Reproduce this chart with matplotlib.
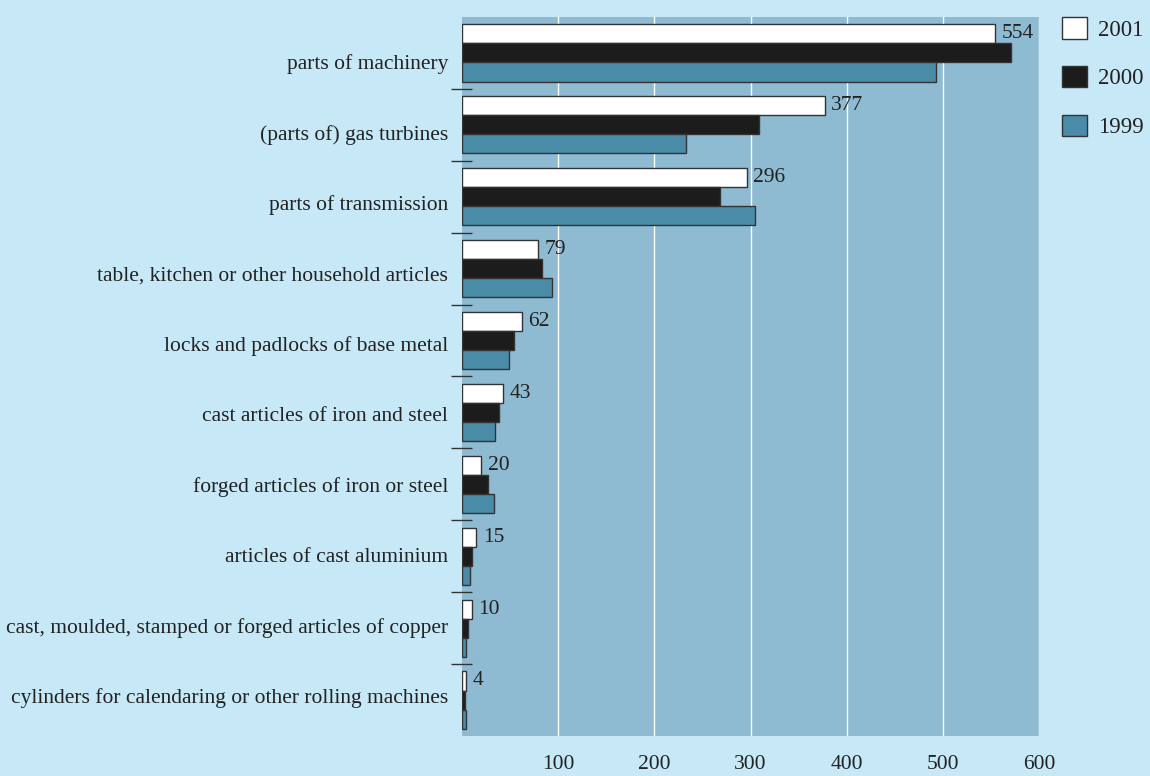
import numpy as np
import matplotlib.pyplot as plt
from matplotlib.patches import Patch

categories = [
    "parts of machinery",
    "(parts of) gas turbines",
    "parts of transmission",
    "table, kitchen or other household articles",
    "locks and padlocks of base metal",
    "cast articles of iron and steel",
    "forged articles of iron or steel",
    "articles of cast aluminium",
    "cast, moulded, stamped or forged articles of copper",
    "cylinders for calendaring or other rolling machines",
]
years = ["2001", "2000", "1999"]
v2001 = [554, 377, 296, 79, 62, 43, 20, 15, 10, 4]
v2000 = [571, 309, 268, 83, 54, 38, 27, 10, 6, 3]
v1999 = [493, 233, 305, 94, 49, 34, 33, 8, 4, 4]
x_ticks = [100, 200, 300, 400, 500, 600]

BG = "#c6e8f7"
PANEL = "#8fbbd2"
COLORS = {"2001": "#ffffff", "2000": "#1c1c1c", "1999": "#4a8ba8"}
EDGE = "#333333"
TEXT = "#222222"

plt.rcParams["font.family"] = ["Liberation Serif", "DejaVu Serif"]

fig = plt.figure(figsize=(11.5, 7.76), dpi=100, facecolor=BG)
ax = fig.add_axes([462 / 1150, 1 - 736 / 776, 577 / 1150, 719 / 776])
ax.set_facecolor(PANEL)

y = np.arange(len(categories))
h = 0.265
for off, year, vals in [(-h, "2001", v2001), (0, "2000", v2000), (h, "1999", v1999)]:
    ax.barh(y + off, vals, height=h, color=COLORS[year], edgecolor=EDGE,
            linewidth=1.0, zorder=3)

for yi, v in zip(y, v2001):
    ax.text(v + 7, yi - h, str(v), ha="left", va="center", fontsize=15.5,
            color=TEXT, zorder=4)

# short separators between categories
ax.hlines(y[:-1] + 0.5, -11.5, 10.5, color=EDGE, linewidth=1.0,
          clip_on=False, zorder=4)

ax.set_xlim(0, 600)
ax.set_ylim(len(categories) - 0.5, -0.5)
ax.set_xticks(x_ticks)
ax.xaxis.grid(True, color="white", linewidth=1.0, zorder=1)
ax.set_axisbelow(True)
ax.tick_params(axis="x", length=0, pad=14, labelsize=15.5, labelcolor=TEXT)
# category labels sit on a slightly tighter pitch than the bar groups
ax.set_yticks(y + 0.126 - 0.021 * y)
ax.set_yticklabels(categories)
ax.tick_params(axis="y", length=0, pad=10, labelsize=15.5, labelcolor=TEXT)
for s in ax.spines.values():
    s.set_visible(False)

handles = [Patch(facecolor=COLORS[yr], edgecolor=EDGE, linewidth=1.0) for yr in years]
fig.legend(handles, years, loc="upper left",
           bbox_to_anchor=(1062 / 1150, 1 - 17 / 776), frameon=False,
           fontsize=16.5, handlelength=1.07, handleheight=1.07, handletextpad=0.52,
           labelspacing=1.1, borderpad=0, borderaxespad=0, labelcolor=TEXT)

fig.savefig("out.png", dpi=100, facecolor=BG)
